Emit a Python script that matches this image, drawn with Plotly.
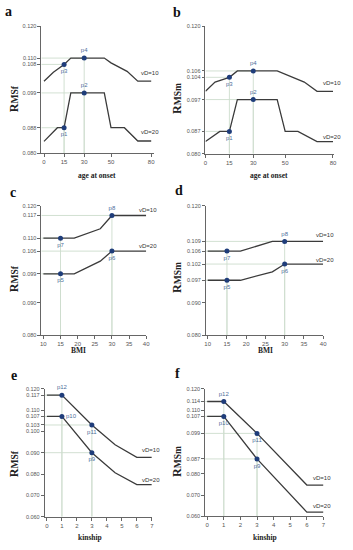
import plotly.graph_objects as go

W, H = 353, 550

# ---------------- data ----------------
# panel a: RMSf vs age at onset
a_x10 = [0, 7, 15, 20, 45, 50, 62, 70, 80]
a_y10 = [0.1027, 0.1055, 0.108, 0.110, 0.110, 0.1085, 0.1058, 0.1027, 0.1027]
a_x20 = [0, 10, 15, 20, 45, 50, 60, 70, 80]
a_y20 = [0.0837, 0.088, 0.088, 0.099, 0.099, 0.088, 0.088, 0.0838, 0.0838]
a_pts_x = [15, 30, 15, 30]
a_pts_y = [0.088, 0.099, 0.108, 0.110]
a_pts_lab = ["p1", "p2", "p3", "p4"]
a_yticks = [0.080, 0.088, 0.099, 0.108, 0.110, 0.120]

# panel b: RMSm vs age at onset
b_x10 = [0, 6, 15, 20, 45, 50, 62, 70, 80]
b_y10 = [0.0996, 0.1025, 0.104, 0.106, 0.106, 0.1049, 0.1025, 0.0996, 0.0996]
b_x20 = [0, 9, 15, 20, 45, 50, 58, 70, 80]
b_y20 = [0.0838, 0.087, 0.087, 0.097, 0.097, 0.087, 0.087, 0.0838, 0.0838]
b_pts_x = [15, 30, 15, 30]
b_pts_y = [0.087, 0.097, 0.104, 0.106]
b_pts_lab = ["p1", "p2", "p3", "p4"]
b_yticks = [0.080, 0.087, 0.097, 0.104, 0.106, 0.120]

age_xticks = [0, 15, 30, 50, 80]

# panel c: RMSf vs BMI
c_x10 = [10, 19, 26.6, 30, 40]
c_y10 = [0.110, 0.110, 0.1129, 0.117, 0.117]
c_x20 = [10, 19, 26.6, 30, 40]
c_y20 = [0.099, 0.099, 0.1029, 0.106, 0.106]
c_pts_x = [15, 30, 15, 30]
c_pts_y = [0.099, 0.106, 0.110, 0.117]
c_pts_lab = ["p5", "p6", "p7", "p8"]
c_yticks = [0.080, 0.090, 0.099, 0.106, 0.110, 0.117, 0.120]

# panel d: RMSm vs BMI
d_x10 = [10, 18.5, 26.8, 30, 40]
d_y10 = [0.106, 0.106, 0.109, 0.109, 0.109]
d_x20 = [10, 18.5, 26.8, 30, 40]
d_y20 = [0.097, 0.097, 0.0996, 0.102, 0.102]
d_pts_x = [15, 30, 15, 30]
d_pts_y = [0.097, 0.102, 0.106, 0.109]
d_pts_lab = ["p5", "p6", "p7", "p8"]
d_yticks = [0.080, 0.090, 0.097, 0.102, 0.106, 0.109, 0.120]

bmi_xticks = [10, 15, 20, 25, 30, 35, 40]

# panel e: RMSf vs kinship
e_x10 = [0, 1, 3, 4.55, 6, 7]
e_y10 = [0.117, 0.117, 0.103, 0.0937, 0.0878, 0.0878]
e_x20 = [0, 1, 3, 4.55, 6, 7]
e_y20 = [0.107, 0.107, 0.090, 0.0806, 0.075, 0.075]
e_pts_x = [3, 1, 3, 1]
e_pts_y = [0.090, 0.107, 0.103, 0.117]
e_pts_lab = ["p9", "p10", "p11", "p12"]
e_yticks = [0.060, 0.070, 0.080, 0.090, 0.100, 0.103, 0.107, 0.110, 0.117, 0.120]

# panel f: RMSm vs kinship
f_x10 = [0, 1, 3, 6, 7]
f_y10 = [0.114, 0.114, 0.099, 0.0747, 0.0747]
f_x20 = [0, 1, 3, 6, 7]
f_y20 = [0.107, 0.107, 0.087, 0.062, 0.062]
f_pts_x = [3, 1, 3, 1]
f_pts_y = [0.087, 0.107, 0.099, 0.114]
f_pts_lab = ["p9", "p10", "p11", "p12"]
f_yticks = [0.060, 0.070, 0.080, 0.087, 0.099, 0.107, 0.110, 0.114, 0.120]

kin_xticks = [0, 1, 2, 3, 4, 5, 6, 7]

# ---------------- styling / layout ----------------
LINE = "#3b3b3b"
MARK = "#1f3d7a"
PLAB = "#4f6f9c"
GUIDE = "#cddccd"
AX = "#666666"
SERIF = "Liberation Serif"
SANS = "Liberation Sans"

panels = [
    dict(letter="a", ytitle="MSf", xtitle="age at onset",
         x10=a_x10, y10=a_y10, x20=a_x20, y20=a_y20,
         px=a_pts_x, py=a_pts_y, pl=a_pts_lab,
         ppos=["bottom center", "top center", "bottom center", "top center"],
         xt=age_xticks, yt=a_yticks, xr=[-2, 82], yr=[0.080, 0.120],
         dom_x=(40, 154.5), dom_y=(23.7, 151.7),
         letter_xy=(7, 9), yt_xy=(12.5, 97), xt_xy=(97, 174),
         vd=[(10, 8, 10), (10, 9, 20)]),
    dict(letter="b", ytitle="MSm", xtitle="age at onset",
         x10=b_x10, y10=b_y10, x20=b_x20, y20=b_y20,
         px=b_pts_x, py=b_pts_y, pl=b_pts_lab,
         ppos=["bottom center", "top center", "bottom center", "top center"],
         xt=age_xticks, yt=b_yticks, xr=[0, 80.5], yr=[0.080, 0.120],
         dom_x=(207, 337.5), dom_y=(23.7, 152.3),
         letter_xy=(178.5, 10), yt_xy=(178, 96), xt_xy=(271.7, 174),
         vd=[(10, 8.5, 10), (10, 5, 20)]),
    dict(letter="c", ytitle="MSf", xtitle="BMI",
         x10=c_x10, y10=c_y10, x20=c_x20, y20=c_y20,
         px=c_pts_x, py=c_pts_y, pl=c_pts_lab,
         ppos=["bottom center", "bottom center", "bottom center", "top center"],
         xt=bmi_xticks, yt=c_yticks, xr=[9.4, 40], yr=[0.080, 0.120],
         dom_x=(40, 146.7), dom_y=(205, 336),
         letter_xy=(11.5, 192), yt_xy=(12.5, 279), xt_xy=(77.7, 351.7),
         vd=[(13, 5.5, 10), (13, 5.5, 20)]),
    dict(letter="d", ytitle="MSm", xtitle="BMI",
         x10=d_x10, y10=d_y10, x20=d_x20, y20=d_y20,
         px=d_pts_x, py=d_pts_y, pl=d_pts_lab,
         ppos=["bottom center", "bottom center", "bottom center", "top center"],
         xt=bmi_xticks, yt=d_yticks, xr=[9.5, 40], yr=[0.080, 0.120],
         dom_x=(207.3, 326.7), dom_y=(205, 336),
         letter_xy=(180, 190), yt_xy=(178, 277), xt_xy=(267.7, 351.7),
         vd=[(13, 6.5, 10), (13, 4, 20)]),
    dict(letter="e", ytitle="MSf", xtitle="kinship",
         x10=e_x10, y10=e_y10, x20=e_x20, y20=e_y20,
         px=e_pts_x, py=e_pts_y, pl=e_pts_lab,
         ppos=["bottom center", "middle right", "bottom center", "top center"],
         xt=kin_xticks, yt=e_yticks, xr=[-0.15, 7], yr=[0.060, 0.120],
         dom_x=(43.4, 152.4), dom_y=(390, 519.3),
         letter_xy=(12, 377), yt_xy=(12.5, 466), xt_xy=(89.3, 540),
         vd=[(10, 7.5, 10), (10, 5, 20)]),
    dict(letter="f", ytitle="MSm", xtitle="kinship",
         x10=f_x10, y10=f_y10, x20=f_x20, y20=f_y20,
         px=f_pts_x, py=f_pts_y, pl=f_pts_lab,
         ppos=["bottom center", "bottom center", "bottom center", "top center"],
         xt=kin_xticks, yt=f_yticks, xr=[-0.12, 7], yr=[0.060, 0.120],
         dom_x=(206.7, 327), dom_y=(390, 519),
         letter_xy=(179, 375), yt_xy=(178, 463), xt_xy=(267.7, 540),
         vd=[(10, 7.5, 10), (10, 6, 20)]),
]

fig = go.Figure()
annotations = []
layout = {}

for i, p in enumerate(panels):
    n = "" if i == 0 else str(i + 1)
    xa, ya = "x" + n, "y" + n
    # guides from each highlighted point to the axes
    for xx, yy in zip(p["px"], p["py"]):
        fig.add_trace(go.Scatter(x=[p["xr"][0], xx], y=[yy, yy], mode="lines",
                                 line=dict(color=GUIDE, width=0.9),
                                 xaxis=xa, yaxis=ya, showlegend=False, hoverinfo="skip"))
        fig.add_trace(go.Scatter(x=[xx, xx], y=[yy, p["yr"][0]], mode="lines",
                                 line=dict(color=GUIDE, width=0.9),
                                 xaxis=xa, yaxis=ya, showlegend=False, hoverinfo="skip"))
    # curves
    for xs, ys in ((p["x10"], p["y10"]), (p["x20"], p["y20"])):
        fig.add_trace(go.Scatter(x=xs, y=ys, mode="lines",
                                 line=dict(color=LINE, width=1.3),
                                 xaxis=xa, yaxis=ya, showlegend=False))
    # points
    fig.add_trace(go.Scatter(x=p["px"], y=p["py"], mode="markers+text",
                             text=p["pl"], textposition=p["ppos"],
                             textfont=dict(family=SANS, size=6, color=PLAB),
                             marker=dict(color=MARK, size=5),
                             cliponaxis=False,
                             xaxis=xa, yaxis=ya, showlegend=False))
    # vD labels at line ends
    for (xs_shift, ys_shift, vd), (xs, ys) in zip(p["vd"], ((p["x10"], p["y10"]), (p["x20"], p["y20"]))):
        annotations.append(dict(x=xs[-1], y=ys[-1], xref=xa, yref=ya,
                                text="vD=%d" % vd, showarrow=False,
                                xanchor="right", yanchor="middle",
                                xshift=xs_shift, yshift=ys_shift,
                                font=dict(family=SANS, size=6, color="#333333")))
    # axes
    x0, x1 = p["dom_x"]
    ytop, ybot = p["dom_y"]
    layout["xaxis" + n] = dict(domain=[x0 / W, x1 / W], range=p["xr"], anchor=ya,
                               tickvals=p["xt"], ticks="outside", ticklen=3,
                               tickcolor=AX, tickwidth=0.8,
                               showline=True, linecolor=AX, linewidth=0.8,
                               showgrid=False, zeroline=False,
                               tickfont=dict(family=SANS, size=6, color="#555555"))
    layout["yaxis" + n] = dict(domain=[1 - ybot / H, 1 - ytop / H], range=p["yr"], anchor=xa,
                               tickvals=p["yt"], tickformat=".3f", ticks="outside",
                               ticklen=3, tickcolor=AX, tickwidth=0.8,
                               showline=True, linecolor=AX, linewidth=0.8,
                               showgrid=False, zeroline=False,
                               tickfont=dict(family=SANS, size=5.5, color="#555555"))
    # text: letter, axis titles
    lx, ly = p["letter_xy"]
    annotations.append(dict(x=lx / W, y=1 - ly / H, xref="paper", yref="paper",
                            text="<b>%s</b>" % p["letter"], showarrow=False,
                            xanchor="center", yanchor="middle",
                            font=dict(family=SERIF, size=14, color="#111111")))
    tx, ty = p["yt_xy"]
    annotations.append(dict(x=tx / W, y=1 - ty / H, xref="paper", yref="paper",
                            text="<b>R<span style='font-size:9.5px'>%s</span></b>" % p["ytitle"],
                            showarrow=False, textangle=-90,
                            xanchor="center", yanchor="middle",
                            font=dict(family=SERIF, size=12, color="#222222")))
    ax_, ay_ = p["xt_xy"]
    annotations.append(dict(x=ax_ / W, y=1 - ay_ / H, xref="paper", yref="paper",
                            text="<b>%s</b>" % p["xtitle"], showarrow=False,
                            xanchor="center", yanchor="middle",
                            font=dict(family=SERIF, size=7.5, color="#222222")))

fig.update_layout(width=W, height=H, margin=dict(l=0, r=0, t=0, b=0),
                  paper_bgcolor="white", plot_bgcolor="white",
                  annotations=annotations, **layout)

fig.write_html("out.html", config={"displayModeBar": False},
               post_script="document.body.style.margin='0';document.body.style.overflow='hidden';")
